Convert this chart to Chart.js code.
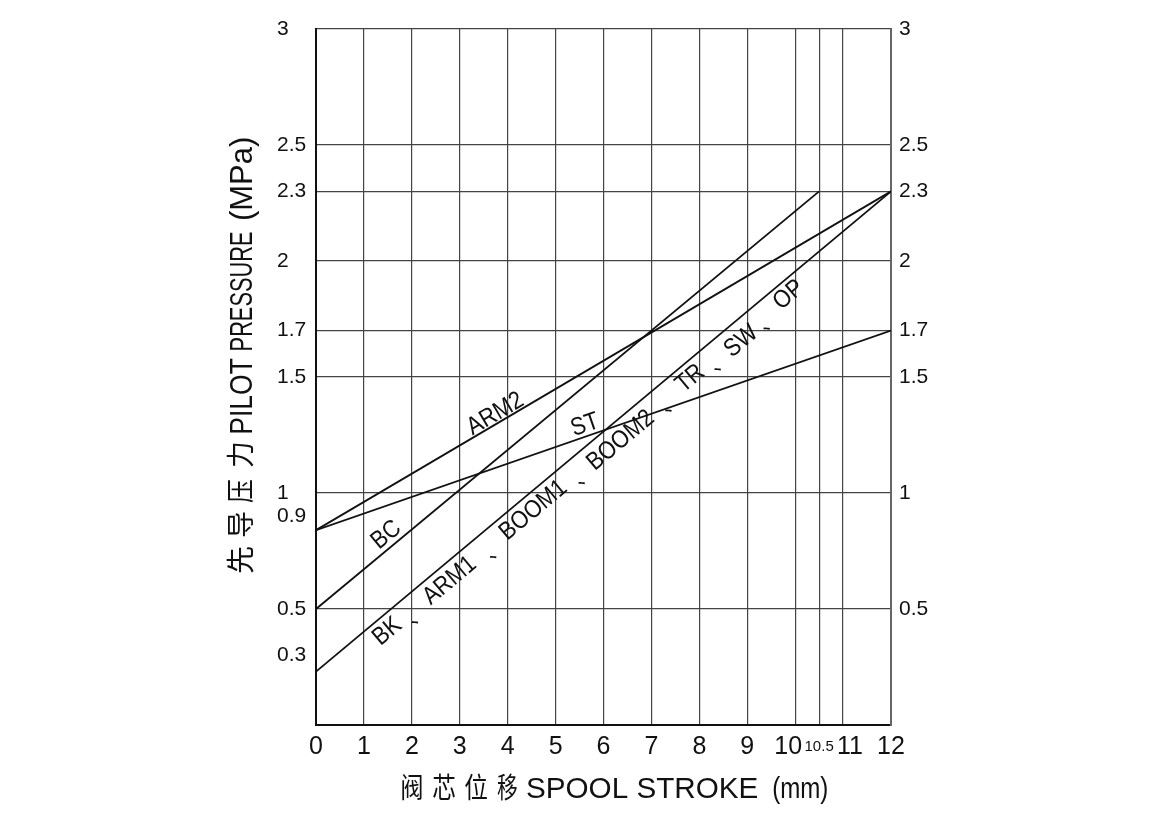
<!DOCTYPE html>
<html><head><meta charset="utf-8">
<script src="https://cdn.jsdelivr.net/npm/chart.js@4.4.1/dist/chart.umd.min.js"></script>
<style>html,body{margin:0;padding:0;background:#fff;}#wrap{width:1160px;height:814px;position:relative;}</style>
</head><body><div id="wrap"><canvas id="c" width="1160" height="814"></canvas></div>
<script>
// ---- data ----
const strokeTicks = [0,1,2,3,4,5,6,7,8,9,10,10.5,11,12];
const strokeTickLabels = ['0','1','2','3','4','5','6','7','8','9','10  ','10.5','  11','12'];
const pressureTicksLeft = [0.3,0.5,0.9,1,1.5,1.7,2,2.3,2.5,3];
const pressureTicksRight = [0.5,1,1.5,1.7,2,2.3,2.5,3];
const pressureGrid = [0.5,1,1.5,1.7,2,2.3,2.5,3];

const seriesNames = ['ARM2','ST','BC','BK、ARM1、BOOM1、BOOM2、TR、SW、OP'];
const arm2Stroke = [0,12];   const arm2Pressure = [0.84,2.3];
const stStroke = [0,12];     const stPressure = [0.84,1.7];
const bcStroke = [0,10.5];   const bcPressure = [0.5,2.3];
const groupStroke = [0,12];  const groupPressure = [0.23,2.3];

// ---- styling / label placement ----
const FONT = '"Liberation Sans", Arial, sans-serif';
const CJK = '"Noto Sans CJK SC", "Noto Sans CJK JP", sans-serif';
const LINE = '#111';
const GRID = '#444';
const TXT = '#111';

// labels along lines: ds index, foot position (stroke), perpendicular offset (+ above)
const lineLabels = [
  {ds:0, at:3.84, off:9, text:'ARM2'},
  {ds:1, at:5.69, off:11, text:'ST'},
  {ds:2, at:1.63, off:12, text:'BC'},
  {ds:3, at:1.29, off:-15, text:'BK'},
  {ds:3, at:2.58, off:-16, text:'ARM1'},
  {ds:3, at:4.33, off:-15.5, text:'BOOM1'},
  {ds:3, at:6.12, off:-18, text:'BOOM2'},
  {ds:3, at:7.61, off:-15, text:'TR'},
  {ds:3, at:8.62, off:-19, text:'SW'},
  {ds:3, at:9.68, off:-14, text:'OP'}
];
const separators = [1.74, 3.37, 5.22, 7.03, 8.06, 9.08];

function pts(xs, ys){ return xs.map((x,i)=>({x:x, y:ys[i]})); }
function ds(label, xs, ys){
  return {label:label, data:pts(xs,ys), borderColor:LINE, borderWidth:1.8, pointRadius:0, tension:0, fill:false};
}

function fitText(ctx, text, font, s0, s1, base){
  ctx.font = font;
  const m = ctx.measureText(text);
  const vw = m.actualBoundingBoxLeft + m.actualBoundingBoxRight;
  const sx = (s1 - s0) / vw;
  ctx.save();
  ctx.translate(s0, base);
  ctx.scale(sx, 1);
  ctx.textAlign = 'left';
  ctx.textBaseline = 'alphabetic';
  ctx.fillText(text, m.actualBoundingBoxLeft, 0);
  ctx.restore();
}

const textPlugin = {
  id:'textPlugin',
  afterDraw(chart){
    const ctx = chart.ctx;
    const xs = chart.scales.x, ys = chart.scales.y;
    ctx.save();
    ctx.fillStyle = TXT;
    const place = (dsi, at, off, text, font, sx, dx, dy) => {
      const d = chart.data.datasets[dsi].data;
      const x0 = xs.getPixelForValue(d[0].x), y0 = ys.getPixelForValue(d[0].y);
      const x1 = xs.getPixelForValue(d[1].x), y1 = ys.getPixelForValue(d[1].y);
      const a = Math.atan2(y1-y0, x1-x0);
      const t = (at - d[0].x)/(d[1].x - d[0].x);
      const fx = x0 + t*(x1-x0), fy = y0 + t*(y1-y0);
      const cx = fx + off*Math.sin(a), cy = fy - off*Math.cos(a);
      ctx.save();
      ctx.translate(cx, cy);
      ctx.rotate(a);
      ctx.scale(sx, 1);
      ctx.font = font;
      ctx.textAlign = 'center';
      ctx.textBaseline = 'middle';
      ctx.fillText(text, dx||0, dy||0);
      ctx.restore();
    };
    lineLabels.forEach(l => place(l.ds, l.at, l.off, l.text, '25px '+FONT, 0.88));
    separators.forEach(s => place(3, s, -24.7, '、', '20px '+CJK, 1, 5, -5));

    // x title
    const xb = 798;
    const xf = '28px ' + CJK;
    fitText(ctx, '阀', xf, 402, 422, xb);
    fitText(ctx, '芯', xf, 433, 455, xb);
    fitText(ctx, '位', xf, 465, 487, xb);
    fitText(ctx, '移', xf, 497, 517, xb);
    fitText(ctx, 'SPOOL STROKE', '29px '+FONT, 527, 758, xb);
    fitText(ctx, '(mm)', '29px '+FONT, 773, 827, xb);

    // y title (rotated)
    ctx.save();
    ctx.translate(252, 0);
    ctx.rotate(-Math.PI/2);
    const yf = '28px ' + CJK;
    fitText(ctx, '先', yf, -573, -547, -1);
    fitText(ctx, '导', yf, -537, -512, -1);
    fitText(ctx, '压', yf, -503, -480, -1);
    fitText(ctx, '力', yf, -467, -443, -1);
    fitText(ctx, 'PILOT', '31px '+FONT, -433, -358, 0);
    fitText(ctx, 'PRESSURE', '31px '+FONT, -350, -232, 0);
    fitText(ctx, '(MPa)', '31px '+FONT, -220, -138, 0);
    ctx.restore();
    ctx.restore();
  }
};

const chart = new Chart(document.getElementById('c').getContext('2d'), {
  type:'line',
  data:{ datasets:[
    ds(seriesNames[0], arm2Stroke, arm2Pressure),
    ds(seriesNames[1], stStroke, stPressure),
    ds(seriesNames[2], bcStroke, bcPressure),
    ds(seriesNames[3], groupStroke, groupPressure)
  ]},
  options:{
    responsive:false, animation:false, devicePixelRatio:1,
    layout:{ padding:{left:277, top:29, right:0, bottom:0} },
    plugins:{ legend:{display:false}, tooltip:{enabled:false}, title:{display:false} },
    scales:{
      x:{ type:'linear', min:0, max:12, position:'bottom',
        afterBuildTicks: s => { s.ticks = strokeTicks.map(v => ({value:v})); },
        afterFit: s => { s.height = 89; },
        ticks:{ autoSkip:false, maxRotation:0, minRotation:0, padding:7, color:TXT,
          font: c => (c.tick && c.tick.value === 10.5) ? {family:FONT, size:15, lineHeight:2.0} : {family:FONT, size:25, lineHeight:1.2},
          callback: v => { const i = strokeTicks.indexOf(v); return i >= 0 ? strokeTickLabels[i] : ''; } },
        grid:{ color:GRID, lineWidth:1.2, drawTicks:false },
        border:{ display:true, color:'#111', width:2 } },
      y:{ type:'linear', min:0, max:3, position:'left',
        afterBuildTicks: s => { s.ticks = pressureTicksLeft.map(v => ({value:v})); },
        afterFit: s => { s.width = 39; },
        ticks:{ autoSkip:false, crossAlign:'far', padding:0, color:TXT, font:{family:FONT, size:21},
          callback: v => String(v) },
        grid:{ color: c => (c.tick && pressureGrid.includes(c.tick.value)) ? GRID : 'rgba(0,0,0,0)', lineWidth:1.2, drawTicks:false },
        border:{ display:true, color:'#111', width:2 } },
      y2:{ type:'linear', min:0, max:3, position:'right',
        afterBuildTicks: s => { s.ticks = pressureTicksRight.map(v => ({value:v})); },
        afterFit: s => { s.width = 269; },
        ticks:{ autoSkip:false, crossAlign:'near', padding:8, color:TXT, font:{family:FONT, size:21},
          callback: v => String(v) },
        grid:{ display:false, drawTicks:false },
        border:{ display:true, color:'#666', width:2 } }
    }
  },
  plugins:[textPlugin]
});
</script></body></html>
